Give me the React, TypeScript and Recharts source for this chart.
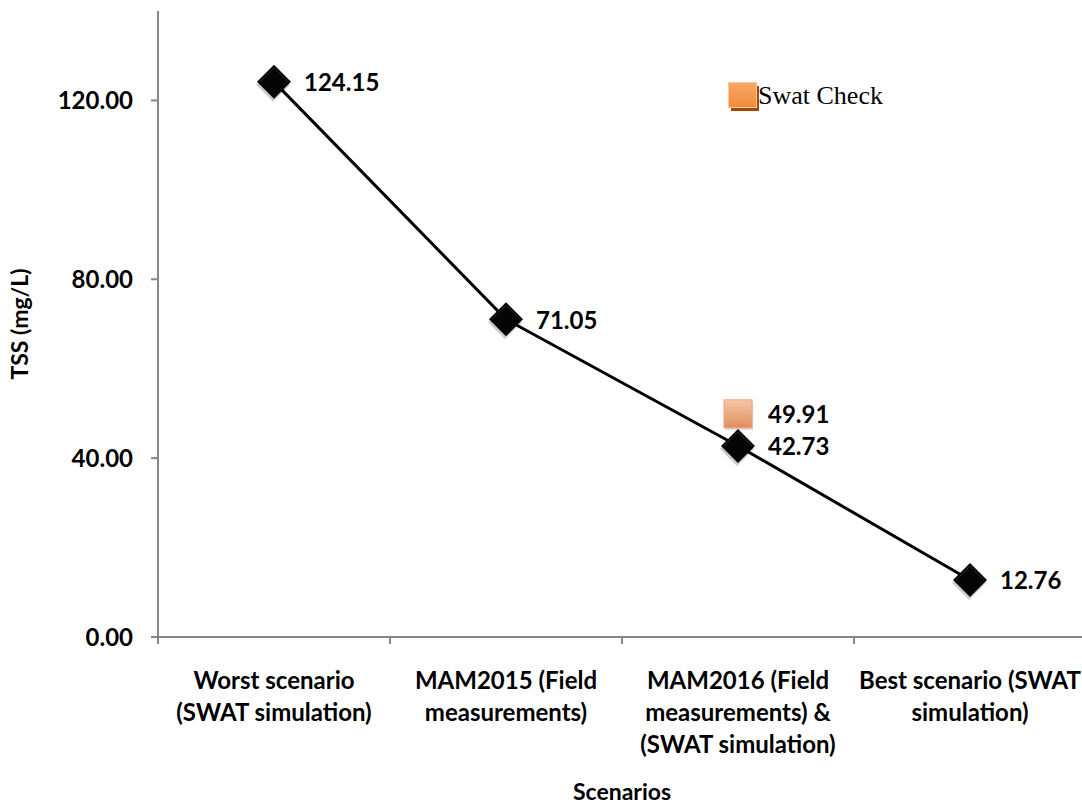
import { LineChart, Line, XAxis, YAxis, LabelList } from 'recharts';

const categories = [
  'Worst scenario\n(SWAT simulation)',
  'MAM2015 (Field\nmeasurements)',
  'MAM2016 (Field\nmeasurements) &\n(SWAT simulation)',
  'Best scenario (SWAT\nsimulation)',
];
const tssValues = [124.15, 71.05, 42.73, 12.76];
const swatCheckValues = [null, null, 49.91, null];
const yTicks = [0, 40, 80, 120];

const data = categories.map((name, i) => ({
  name,
  tss: tssValues[i],
  swat: swatCheckValues[i],
}));

const FONT = 'Lato, "DejaVu Sans Condensed", sans-serif';
const AXIS = '#868686';

// category label plus Excel-style tick marks between categories
const CategoryTick = ({ x, y, payload, width, visibleTicksCount, index }: any) => {
  const lines = String(payload.value).split('\n');
  const band = width / visibleTicksCount;
  return (
    <g>
      <line x1={x - band / 2} x2={x - band / 2} y1={y} y2={y + 7} stroke={AXIS} strokeWidth={2} />
      {index === visibleTicksCount - 1 && (
        <line x1={x + band / 2} x2={x + band / 2} y1={y} y2={y + 7} stroke={AXIS} strokeWidth={2} />
      )}
      <text
        x={x}
        y={y + 52}
        textAnchor="middle"
        fill="#000"
        fontFamily={FONT}
        fontWeight="bold"
        fontSize={24}
      >
        {lines.map((line, i) => (
          <tspan key={i} x={x} dy={i === 0 ? 0 : 32}>
            {line}
          </tspan>
        ))}
      </text>
    </g>
  );
};

const DiamondDot = ({ cx, cy, index }: any) => {
  if (cx == null || cy == null) return <g key={`d-${index}`} />;
  const r = 17;
  const path = (ox: number, oy: number) =>
    `M${cx + ox},${cy + oy - r} L${cx + ox + r},${cy + oy} L${cx + ox},${cy + oy + r} L${cx + ox - r},${cy + oy} Z`;
  return (
    <g key={`d-${index}`}>
      <path d={path(-1, 3)} fill="#000" opacity={0.2} />
      <path d={path(0, 0)} fill="#050505" />
      <path d={`M${cx - r + 3},${cy} L${cx},${cy - r + 3} L${cx + r - 3},${cy}`} fill="none" stroke="#2a2a2a" strokeWidth={1} />
    </g>
  );
};

const SquareDot = ({ cx, cy, index }: any) => {
  if (cx == null || cy == null) return <g key={`s-${index}`} />;
  const h = 14;
  return (
    <g key={`s-${index}`}>
      <defs>
        <linearGradient id={`sq-grad-${index}`} x1="0" y1="0" x2="0" y2="1">
          <stop offset="0%" stopColor="#F6C7A6" />
          <stop offset="100%" stopColor="#E08D5E" />
        </linearGradient>
      </defs>
      <rect x={cx - h + 1} y={cy - h + 2} width={h * 2} height={h * 2} fill="#000" opacity={0.15} />
      <rect x={cx - h} y={cy - h} width={h * 2} height={h * 2} fill={`url(#sq-grad-${index})`} stroke="#E9A47C" strokeWidth={1} />
    </g>
  );
};

const ValueLabel = ({ x, y, value }: any) => {
  if (value == null) return null;
  return (
    <text
      x={x + 30}
      y={y}
      dominantBaseline="central"
      fill="#000"
      fontFamily={FONT}
      fontWeight="bold"
      fontSize={24}
    >
      {Number(value).toFixed(2)}
    </text>
  );
};

const SwatLegend = () => (
  <div style={{ position: 'absolute', left: 728, top: 82, display: 'flex', alignItems: 'center' }}>
    <div style={{ position: 'relative', width: 31, height: 29 }}>
      <div style={{ position: 'absolute', left: 3, top: 4, width: 28, height: 25, background: '#A0470A' }} />
      <div
        style={{
          position: 'absolute',
          left: 0,
          top: 0,
          width: 29,
          height: 26,
          background: 'linear-gradient(#F7A862, #F08A3C)',
          border: '1px solid #F9C9A0',
          boxSizing: 'border-box',
        }}
      />
    </div>
    <span style={{ fontFamily: '"Liberation Serif", "Times New Roman", serif', fontSize: 26, color: '#000', marginLeft: -1, marginTop: -1 }}>
      Swat Check
    </span>
  </div>
);

export default function App() {
  return (
    <div style={{ position: 'fixed', left: 0, top: 0, width: 1082, height: 808, overflow: 'hidden', background: '#fff' }}>
      <LineChart width={1086} height={808} data={data} margin={{ top: 11, right: 0, bottom: 0, left: 0 }}>
        <XAxis
          dataKey="name"
          type="category"
          interval={0}
          padding={{ left: 116, right: 116 }}
          axisLine={{ stroke: AXIS, strokeWidth: 2 }}
          tickLine={false}
          tickSize={0}
          tickMargin={0}
          tick={<CategoryTick />}
          height={171}
          label={{
            value: 'Scenarios',
            position: 'insideBottom',
            offset: 8,
            fill: '#000',
            fontFamily: FONT,
            fontWeight: 'bold',
            fontSize: 23,
          }}
        />
        <YAxis
          domain={[0, 140]}
          ticks={yTicks}
          width={158}
          tickFormatter={(v: number) => v.toFixed(2)}
          axisLine={{ stroke: AXIS, strokeWidth: 2 }}
          tickLine={{ stroke: AXIS, strokeWidth: 2 }}
          tickSize={7}
          tickMargin={18}
          tick={{ fill: '#000', fontFamily: FONT, fontWeight: 'bold', fontSize: 24 }}
          label={{
            content: ({ viewBox }: any) => {
              const cx = 19;
              const cy = viewBox.y + viewBox.height / 2;
              return (
                <text
                  x={cx}
                  y={cy}
                  transform={`rotate(-90, ${cx}, ${cy})`}
                  textAnchor="middle"
                  dominantBaseline="central"
                  fill="#000"
                  fontFamily={FONT}
                  fontWeight="bold"
                  fontSize={23}
                >
                  TSS (mg/L)
                </text>
              );
            },
          }}
        />
        <Line
          dataKey="tss"
          name="TSS"
          stroke="#000"
          strokeWidth={3}
          dot={<DiamondDot />}
          activeDot={false}
          isAnimationActive={false}
        >
          <LabelList dataKey="tss" content={<ValueLabel />} />
        </Line>
        <Line
          dataKey="swat"
          name="Swat Check"
          stroke="none"
          dot={<SquareDot />}
          activeDot={false}
          isAnimationActive={false}
        >
          <LabelList dataKey="swat" content={<ValueLabel />} />
        </Line>
      </LineChart>
      <SwatLegend />
    </div>
  );
}
